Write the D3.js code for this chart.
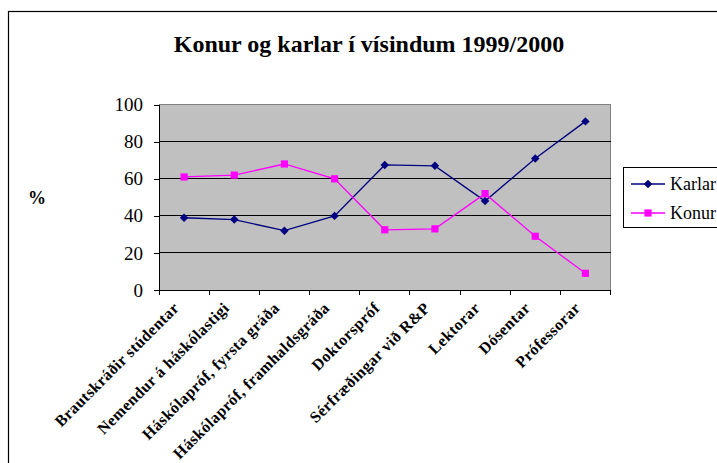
<!DOCTYPE html>
<html lang="en">
	<head>
		<meta charset="utf-8">
		<title>Konur og karlar í vísindum 1999/2000</title>
		<script src="https://d3js.org/d3.v7.min.js"></script>
		<style>
			body { margin: 0; background: #fff; }
			svg text { font-family: "Liberation Serif", "Times New Roman", Times, serif; fill: #000; }
			.axis path, .axis line { stroke: #000; shape-rendering: crispEdges; }
		</style>
	</head>
	<body>
		<div id="vis"></div>
	</body>
	<script>
		// gildi lesin af myndinni
		var categories = ["Brautskráðir stúdentar", "Nemendur á háskólastigi", "Háskólapróf, fyrsta gráða",
			"Háskólapróf, framhaldsgráða", "Doktorspróf", "Sérfræðingar við R&P", "Lektorar", "Dósentar", "Prófessorar"];
		var karlar = [39, 38, 32, 40, 67.5, 67, 48, 71, 91];
		var konur = [61, 62, 68, 60, 32.5, 33, 52, 29, 9];
		var yTicks = [0, 20, 40, 60, 80, 100];

		var serif = "'Liberation Serif', 'Times New Roman', Times, serif";
		var width = 717, height = 463;
		var plot = { left: 159, right: 610.5, top: 104.7, bottom: 290 };

		var svg = d3.select("#vis").append("svg")
			.attr("width", width)
			.attr("height", height)
			.attr("font-family", serif);

		// ytri rammi
		svg.append("rect")
			.attr("x", 8.5).attr("y", 11.5)
			.attr("width", 800).attr("height", 600)
			.attr("fill", "#fff")
			.attr("stroke", "#000")
			.attr("stroke-width", 1.2);

		svg.append("text")
			.attr("x", 369).attr("y", 52)
			.attr("text-anchor", "middle")
			.style("font-size", "24px")
			.style("font-weight", "bold")
			.text("Konur og karlar í vísindum 1999/2000");

		var x = d3.scaleBand()
			.domain(categories)
			.range([plot.left, plot.right]);

		var y = d3.scaleLinear()
			.domain([0, 100])
			.range([plot.bottom, plot.top]);

		svg.append("rect")
			.attr("x", plot.left).attr("y", plot.top)
			.attr("width", plot.right - plot.left)
			.attr("height", plot.bottom - plot.top)
			.attr("fill", "#c0c0c0")
			.attr("stroke", "#808080")
			.attr("shape-rendering", "crispEdges");

		svg.append("g")
			.selectAll("line")
			.data(yTicks.filter(function(d){ return d > 0 && d < 100; }))
			.enter().append("line")
				.attr("x1", plot.left).attr("x2", plot.right)
				.attr("y1", function(d){ return y(d); })
				.attr("y2", function(d){ return y(d); })
				.attr("stroke", "#000")
				.attr("shape-rendering", "crispEdges");

		var yAxis = svg.append("g")
			.attr("class", "axis")
			.attr("transform", "translate(" + plot.left + ",0)")
			.call(d3.axisLeft(y).tickValues(yTicks).tickSize(5).tickPadding(11).tickSizeOuter(0))
			.attr("font-family", serif);
		yAxis.selectAll("text").style("font-size", "19px");

		// ás-merki á mörkum flokka
		var xAxis = svg.append("g")
			.attr("class", "axis")
			.attr("transform", "translate(0," + plot.bottom + ")");
		xAxis.append("line")
			.attr("x1", plot.left).attr("x2", plot.right)
			.attr("stroke", "#000");
		xAxis.selectAll(".edge")
			.data(d3.range(categories.length + 1))
			.enter().append("line")
				.attr("class", "edge")
				.attr("x1", function(i){ return plot.left + i * x.step(); })
				.attr("x2", function(i){ return plot.left + i * x.step(); })
				.attr("y1", 0).attr("y2", 5);

		xAxis.selectAll(".lbl")
			.data(categories)
			.enter().append("text")
				.attr("class", "lbl")
				.attr("text-anchor", "end")
				.attr("transform", function(d){
					return "translate(" + (x(d) + x.bandwidth() / 2 - 8) + ",15) rotate(-45)";
				})
				.attr("dy", "0.35em")
				.style("font-size", "16px")
				.style("font-weight", "bold")
				.style("letter-spacing", "0.4px")
				.text(function(d){ return d; });

		svg.append("text")
			.attr("x", 37).attr("y", 204)
			.attr("text-anchor", "middle")
			.style("font-size", "18px")
			.style("font-weight", "bold")
			.text("%");

		var line = d3.line()
			.x(function(d, i){ return x(categories[i]) + x.bandwidth() / 2; })
			.y(function(d){ return y(d); });

		var series = [
			{ name: "Karlar", values: karlar, color: "#000080", rot: 45, size: 36 },
			{ name: "Konur", values: konur, color: "#ff00ff", rot: 0, size: 52 }
		];

		series.forEach(function(s){
			svg.append("path")
				.attr("d", line(s.values))
				.attr("fill", "none")
				.attr("stroke", s.color)
				.attr("stroke-width", 1.3);
			svg.append("g").selectAll("path")
				.data(s.values)
				.enter().append("path")
					.attr("transform", function(d, i){
						return "translate(" + (x(categories[i]) + x.bandwidth() / 2) + "," + y(d) + ") rotate(" + s.rot + ")";
					})
					.attr("d", d3.symbol().type(d3.symbolSquare).size(s.size))
					.attr("fill", s.color);
		});

		// skýringar
		var legend = svg.append("g");
		legend.append("rect")
			.attr("x", 623.5).attr("y", 167.5)
			.attr("width", 200).attr("height", 60)
			.attr("fill", "#fff")
			.attr("stroke", "#000");

		series.forEach(function(s, i){
			var ly = 184 + i * 29;
			legend.append("line")
				.attr("x1", 631).attr("x2", 665)
				.attr("y1", ly).attr("y2", ly)
				.attr("stroke", s.color)
				.attr("stroke-width", 1.3);
			legend.append("path")
				.attr("transform", "translate(648," + ly + ") rotate(" + s.rot + ")")
				.attr("d", d3.symbol().type(d3.symbolSquare).size(s.size))
				.attr("fill", s.color);
			legend.append("text")
				.attr("x", 670).attr("y", ly + 6)
				.style("font-size", "18px")
				.text(s.name);
		});
	</script>
</html>
